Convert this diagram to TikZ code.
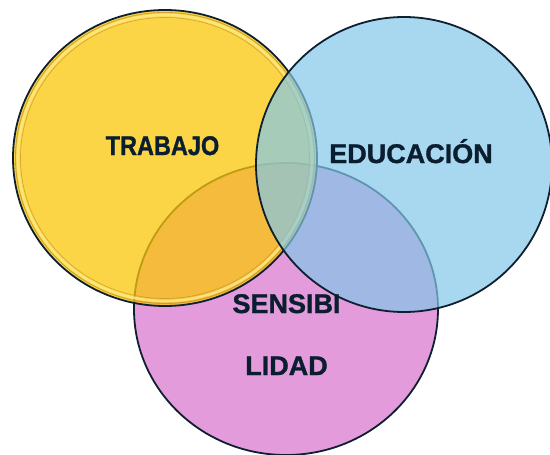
\documentclass[tikz,border=0pt]{standalone}
\usepackage{fontspec}
\setmainfont{Liberation Sans}
\newfontfamily\labelfont[FakeBold=1.2]{Liberation Sans Bold}
\begin{document}
\definecolor{cyellow}{RGB}{250,199,7}
\definecolor{cblue}{RGB}{131,199,233}
\definecolor{cpink}{RGB}{227,155,219}
\definecolor{cline}{RGB}{14,32,48}
\definecolor{ctext}{RGB}{10,30,48}
\definecolor{crim}{RGB}{255,232,130}
\definecolor{crimdark}{RGB}{196,150,40}
\begin{tikzpicture}[x=1pt,y=-1pt,
  outline/.style={draw=cline,line width=1.8pt},
  label/.style={text=ctext,font=\labelfont\fontsize{27}{30}\selectfont,inner sep=0pt,anchor=base}]
\useasboundingbox (0,0) rectangle (550,455);
% pink circle (bottom)
\fill[cpink] (286,309) ellipse [x radius=152, y radius=146];
\draw[outline] (286,309) ellipse [x radius=152, y radius=146];
% yellow circle
\fill[cyellow,fill opacity=0.75] (165,158) ellipse [x radius=152, y radius=148];
\draw[crim,line width=2.6pt,opacity=0.85] (165,158) ellipse [x radius=147, y radius=143];
\draw[crimdark,line width=0.7pt,opacity=0.7] (165,158) ellipse [x radius=144.5, y radius=140.5];
\draw[crimdark,line width=0.9pt,opacity=0.8] (165,158) ellipse [x radius=149.5, y radius=145.5];
\draw[outline] (165,158) ellipse [x radius=152, y radius=148];
% blue circle
\fill[cblue,fill opacity=0.7] (404,164.5) ellipse [x radius=148, y radius=147.5];
\draw[outline] (404,164.5) ellipse [x radius=148, y radius=147.5];
% labels
\node[label,xscale=0.87] (trabajo) at (162.5,155) {TRABAJO};
\node[label] (educacion) at (411,163) {EDUCACIÓN};
\node[label] (sensibi) at (286.5,313) {SENSIBI};
\node[label] (lidad) at (286.5,375) {LIDAD};
\end{tikzpicture}
\end{document}
